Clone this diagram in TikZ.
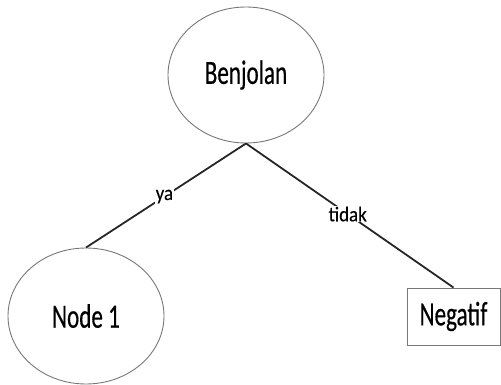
\documentclass[tikz,border=0pt]{standalone}
\usepackage{fontspec}
\setmainfont{Carlito}
\newfontfamily\nodefont[FakeStretch=0.68, FakeBold=0.4]{Carlito}
\newfontfamily\edgefont[FakeStretch=0.9, FakeBold=0.3]{Carlito}
\usetikzlibrary{shapes.geometric}
\definecolor{rimgray}{RGB}{120,120,120}
\tikzset{
  decision/.style={ellipse, draw=rimgray, line width=0.9pt, inner sep=0pt,
    minimum width=156pt, minimum height=136pt,
    font=\nodefont\fontsize{34}{40}\selectfont},
  leafbox/.style={rectangle, draw=rimgray, line width=0.9pt, inner sep=0pt,
    minimum width=93pt, minimum height=57pt,
    font=\nodefont\fontsize{34}{40}\selectfont},
  branch/.style={draw=black!85, line width=1.8pt},
  branchlabel/.style={fill=white, inner sep=1pt,
    font=\edgefont\fontsize{21}{25}\selectfont}
}
\begin{document}
\begin{tikzpicture}[x=1pt, y=-1pt]
  \useasboundingbox (0,0) rectangle (501,385);
  \node[decision] (root) at (246,75) {Benjolan};
  \node[decision] (left) at (86,316) {Node 1};
  \node[leafbox] (right) at (453.5,316.5) {Negatif};
  \draw[branch] (root.south) -- node[branchlabel, pos=0.51] (ya) {ya} (left.north);
  \draw[branch] (root.south) -- node[branchlabel, pos=0.49] (tidak) {tidak} (right.north);
\end{tikzpicture}
\end{document}
